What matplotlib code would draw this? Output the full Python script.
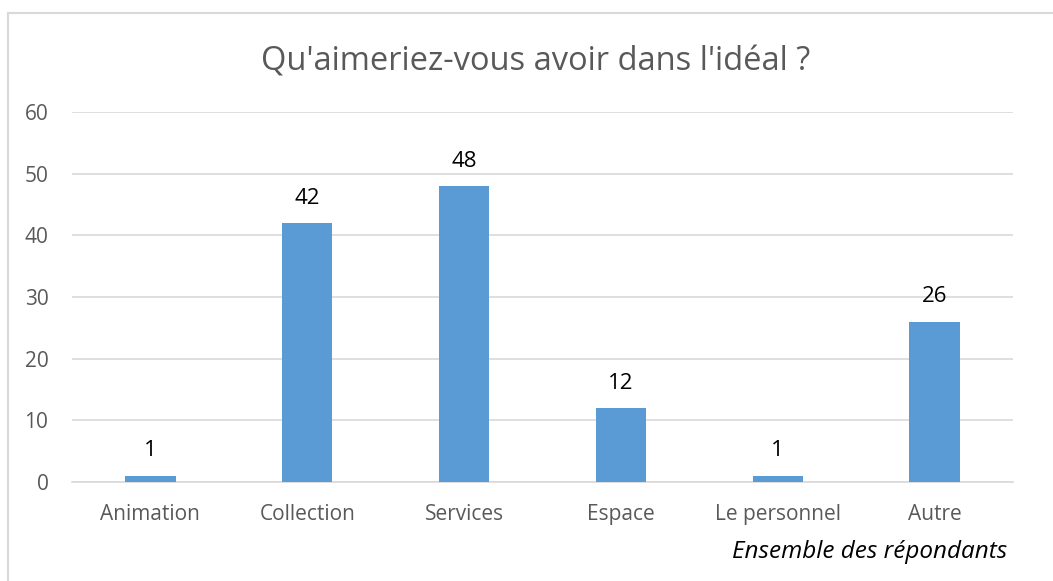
import matplotlib
matplotlib.use("Agg")
import matplotlib.pyplot as plt
from matplotlib.lines import Line2D

categories = ["Animation", "Collection", "Services", "Espace", "Le personnel", "Autre"]
values = [1, 42, 48, 12, 1, 26]
yticks = [0, 10, 20, 30, 40, 50, 60]
title = "Qu'aimeriez-vous avoir dans l'idéal ?"
footer = "Ensemble des répondants"

plt.rcParams['font.family'] = ['Open Sans', 'DejaVu Sans']

W, H = 1053, 581
fig = plt.figure(figsize=(W/100, H/100), dpi=100)
ax = fig.add_axes([72/W, 1-482/H, (1013-72)/W, (482-112)/H])

x = list(range(len(categories)))
bars = ax.bar(x, values, width=0.32, color="#5B9BD5", zorder=3)
for xi, v in zip(x, values):
    ax.annotate(str(v), (xi, v), xytext=(0, 14), textcoords="offset points",
                ha="center", va="baseline", fontsize=16, color="#000000")

ax.set_xlim(-0.5, len(categories) - 0.5)
ax.set_ylim(0, 60)
ax.set_yticks(yticks)
ax.set_xticks(x)
ax.set_xticklabels(categories)
ax.tick_params(axis="both", length=0, labelsize=15, colors="#595959")
ax.tick_params(axis="x", pad=16)
ax.tick_params(axis="y", pad=17)
ax.grid(axis="y", color="#D9D9D9", linewidth=1.2, zorder=0)
for s in ["top", "right", "left"]:
    ax.spines[s].set_visible(False)
ax.spines["bottom"].set_color("#D9D9D9")
ax.spines["bottom"].set_linewidth(1.2)

fig.text(536/W, 1-62/H, title, ha="center", va="center", fontsize=23.5, color="#595959")
fig.text(1007/W, 1-552/H, footer, ha="right", va="center", fontsize=17.5, style="italic", color="#000000")

# chart border (top and left visible)
fig.add_artist(Line2D([7.5/W, 7.5/W], [0, 1-12.5/H], transform=fig.transFigure, color="#D9D9D9", lw=1.5))
fig.add_artist(Line2D([7.5/W, 1], [1-12.5/H, 1-12.5/H], transform=fig.transFigure, color="#D9D9D9", lw=1.5))

fig.savefig("out.png", dpi=100, facecolor="white")
